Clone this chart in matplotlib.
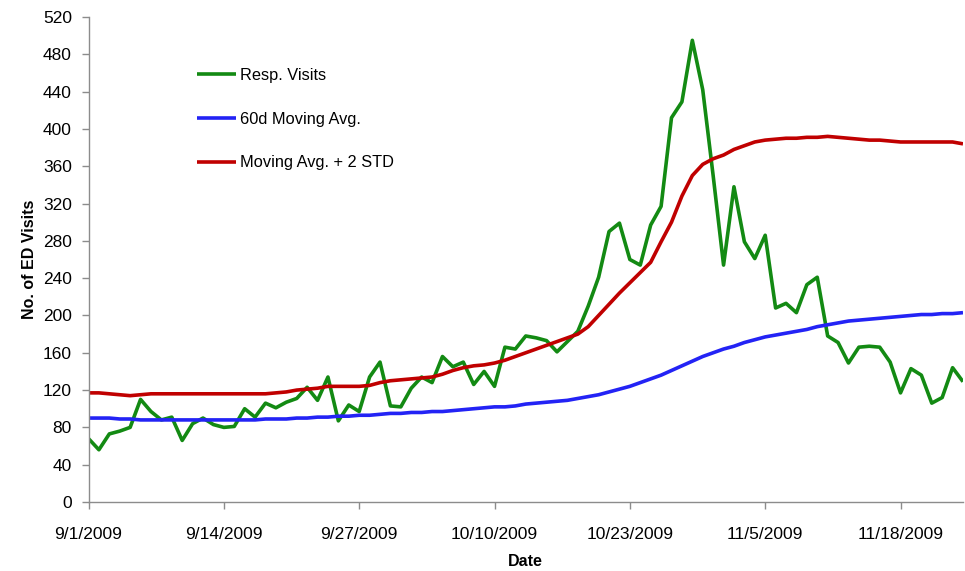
import matplotlib
matplotlib.use("Agg")
import matplotlib.pyplot as plt
import numpy as np
import datetime as dt

plt.rcParams['font.family'] = ['Liberation Sans', 'DejaVu Sans']

start_date = "2009-09-01"
tick_dates = ["2009-09-01", "2009-09-14", "2009-09-27", "2009-10-10",
              "2009-10-23", "2009-11-05", "2009-11-18"]
yticks = list(range(0, 521, 40))

resp_visits = [68, 56, 73, 76, 80, 110, 97, 88, 91, 66,
               84, 90, 83, 80, 81, 100, 91, 106, 101, 107,
               111, 123, 109, 134, 87, 104, 97, 134, 150, 103,
               102, 122, 134, 128, 156, 145, 150, 126, 140, 124,
               166, 164, 178, 176, 173, 161, 172, 183, 210, 241,
               290, 299, 260, 254, 297, 317, 412, 429, 495, 442,
               350, 254, 338, 279, 261, 286, 208, 213, 203, 233,
               241, 178, 171, 149, 166, 167, 166, 150, 117, 143,
               136, 106, 112, 144, 129]

moving_avg = [90, 90, 90, 89, 89, 88, 88, 88, 88, 88,
              88, 88, 88, 88, 88, 88, 88, 89, 89, 89,
              90, 90, 91, 91, 92, 92, 93, 93, 94, 95,
              95, 96, 96, 97, 97, 98, 99, 100, 101, 102,
              102, 103, 105, 106, 107, 108, 109, 111, 113, 115,
              118, 121, 124, 128, 132, 136, 141, 146, 151, 156,
              160, 164, 167, 171, 174, 177, 179, 181, 183, 185,
              188, 190, 192, 194, 195, 196, 197, 198, 199, 200,
              201, 201, 202, 202, 203]

avg_plus_2std = [117, 117, 116, 115, 114, 115, 116, 116, 116, 116,
                 116, 116, 116, 116, 116, 116, 116, 116, 117, 118,
                 120, 121, 122, 124, 124, 124, 124, 125, 128, 130,
                 131, 132, 133, 134, 137, 141, 144, 146, 147, 149,
                 152, 156, 160, 164, 168, 172, 176, 180, 188, 200,
                 212, 224, 235, 246, 257, 279, 300, 328, 350, 362,
                 368, 372, 378, 382, 386, 388, 389, 390, 390, 391,
                 391, 392, 391, 390, 389, 388, 388, 387, 386, 386,
                 386, 386, 386, 386, 384]

labels = ["Resp. Visits", "60d Moving Avg.", "Moving Avg. + 2 STD"]
colors = ["#138a13", "#2323f5", "#c00000"]

d0 = np.datetime64(start_date)
dates = d0 + np.arange(len(resp_visits)).astype("timedelta64[D]")
dates = dates.astype("datetime64[D]").astype(object)

fig = plt.figure(figsize=(9.65, 5.71), dpi=100)
ax = fig.add_axes([88.5 / 965, 1 - 502 / 571, (963 - 88.5) / 965, (502 - 17) / 571])

for series, lab, col in zip([resp_visits, moving_avg, avg_plus_2std], labels, colors):
    ax.plot(dates, series, color=col, lw=2.6, label=lab, solid_joinstyle="round",
            solid_capstyle="butt")

ax.set_xlim(dates[0], dates[-1])
ax.set_ylim(0, 520)
ax.set_yticks(yticks)

ticks = [dt.datetime.strptime(t, "%Y-%m-%d") for t in tick_dates]
ax.set_xticks(ticks)
ax.set_xticklabels([f"{t.month}/{t.day}/{t.year}" for t in ticks])

for s in ["top", "right"]:
    ax.spines[s].set_visible(False)
for s in ["left", "bottom"]:
    ax.spines[s].set_color("#8c8c8c")
    ax.spines[s].set_linewidth(1.0)

ax.tick_params(axis="both", direction="out", length=5, color="#8c8c8c", width=1.0,
               labelsize=12.5, labelcolor="#000000")
ax.tick_params(axis="x", pad=13)
ax.tick_params(axis="y", pad=7)

ax.set_xlabel("Date", fontsize=11.5, fontweight="bold")
ax.set_ylabel("No. of ED Visits", fontsize=11.5, fontweight="bold")
ax.xaxis.set_label_coords(0.5, (502 - 561) / 485)
ax.xaxis.label.set_verticalalignment("center")
ax.yaxis.set_label_coords((30 - 88.5) / 874.5, 0.5)
ax.yaxis.label.set_verticalalignment("center")

leg = ax.legend(loc="upper left", bbox_to_anchor=(197 / 965, 1 - 68 / 571),
                bbox_transform=fig.transFigure, frameon=False, fontsize=11.8,
                handlelength=2.35, handletextpad=0.3, labelspacing=1.75,
                borderpad=0, borderaxespad=0)

fig.savefig("out.png", dpi=100)
